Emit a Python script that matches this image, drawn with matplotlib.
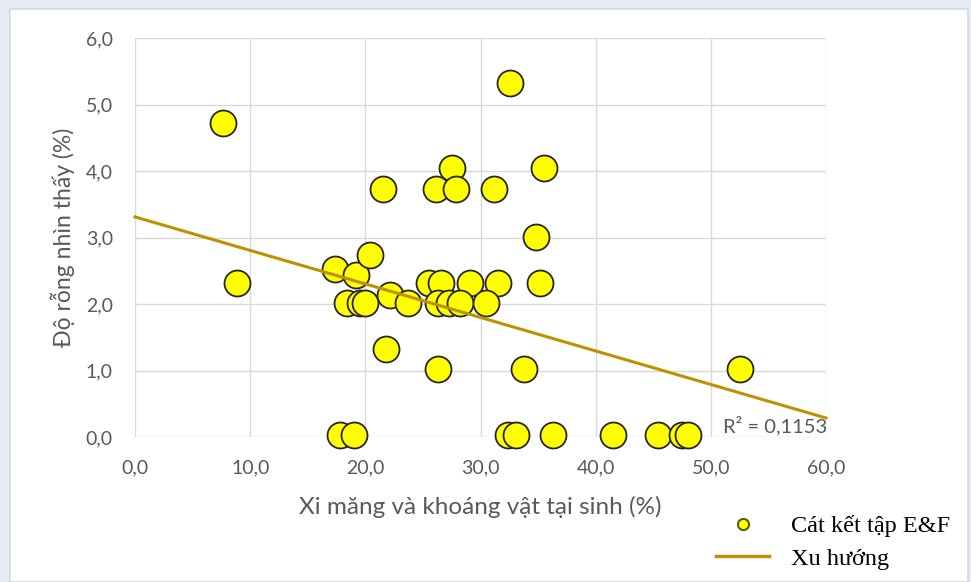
import numpy as np
import matplotlib.pyplot as plt
from matplotlib.patches import Rectangle
from matplotlib.lines import Line2D

# Xi măng + khoáng vật tại sinh (%) và độ rỗng nhìn thấy (%)
xi_mang = [7.6, 8.9, 17.4, 19.2, 20.4, 18.4, 19.5, 20.0, 22.1, 23.7,
           21.8, 17.8, 19.0, 27.5, 21.5, 26.1, 27.9, 31.2, 35.5, 34.8,
           25.5, 26.6, 29.1, 31.5, 35.2, 26.3, 27.3, 28.2, 30.5, 26.3,
           33.8, 32.6, 32.4, 33.1, 36.3, 41.5, 45.4, 47.5, 48.0, 52.5]
do_rong = [4.72, 2.32, 2.53, 2.44, 2.74, 2.01, 2.01, 2.01, 2.13, 2.01,
           1.33, 0.03, 0.03, 4.04, 3.73, 3.73, 3.73, 3.73, 4.04, 3.01,
           2.32, 2.32, 2.32, 2.32, 2.32, 2.01, 2.01, 2.01, 2.01, 1.02,
           1.02, 5.32, 0.03, 0.03, 0.03, 0.03, 0.03, 0.03, 0.03, 1.02]

# hệ số đường xu hướng (Excel) và R²
trend_intercept = 3.31
trend_slope = -0.0504
r2_text = "R² = 0,1153"

x_ticks = [0, 10, 20, 30, 40, 50, 60]
y_ticks = [0, 1, 2, 3, 4, 5, 6]

gray = "#595959"
trend_color = "#bf9000"
tick_font = "Lato"
legend_font = "Liberation Serif"

fig = plt.figure(figsize=(9.71, 5.82), dpi=100)
fig.patch.set_facecolor("#e6eaf5")
# khung trắng của biểu đồ
fig.patches.append(Rectangle((10 / 971, 0), 958 / 971, 1 - 9 / 582,
                             transform=fig.transFigure, facecolor="white",
                             edgecolor="#d9d9d9", linewidth=1.2, zorder=-5))

ax = fig.add_axes([135 / 971, 1 - 437 / 582, 691 / 971, 399 / 582])
ax.set_facecolor("none")
ax.set_xlim(0, 60)
ax.set_ylim(0, 6)
ax.set_xticks(x_ticks)
ax.set_yticks(y_ticks)
ax.set_xticklabels([f"{v:.1f}".replace(".", ",") for v in x_ticks])
ax.set_yticklabels([f"{v:.1f}".replace(".", ",") for v in y_ticks])
ax.tick_params(length=0, labelsize=14, labelcolor=gray)
for lbl in ax.get_xticklabels() + ax.get_yticklabels():
    lbl.set_family(tick_font)
for s in ax.spines.values():
    s.set_visible(False)
ax.grid(True, color="#d9d9d9", linewidth=1.0)
ax.set_axisbelow(True)
ax.tick_params(axis="x", pad=16)
ax.tick_params(axis="y", pad=16)

ax.scatter(xi_mang, do_rong, s=350, facecolor="#ffff00", edgecolor="#262626",
           linewidth=1.3, zorder=3, clip_on=False)

# đường xu hướng tuyến tính
xs = np.array([0, 60])
ax.plot(xs, trend_slope * xs + trend_intercept, color=trend_color,
        linewidth=2.2, zorder=4, clip_on=False)
ax.text(60.1, 0.02, r2_text, ha="right", va="bottom", fontsize=14.5,
        color=gray, family=tick_font, zorder=5)

ax.set_xlabel("Xi măng và khoáng vật tại sinh (%)", fontsize=17.5,
              color=gray, family=tick_font, labelpad=14)
ax.set_ylabel("Độ rỗng nhìn thấy (%)", fontsize=16.5, color=gray,
              family=tick_font, labelpad=8)

handles = [
    Line2D([], [], linestyle="none", marker="o", markersize=8,
           markerfacecolor="#ffff00", markeredgecolor="#5a5a00",
           markeredgewidth=1.5),
    Line2D([], [], color=trend_color, linewidth=2.5),
]
fig.legend(handles, ["Cát kết tập E&F", "Xu hướng"], loc="upper left",
           bbox_to_anchor=(699 / 971, 1 - 498 / 582), frameon=False,
           prop={"family": legend_font, "size": 17.5}, handlelength=2.2,
           labelspacing=0.45, handletextpad=0.9, borderpad=0.2)

fig.savefig("out.png", dpi=100)
